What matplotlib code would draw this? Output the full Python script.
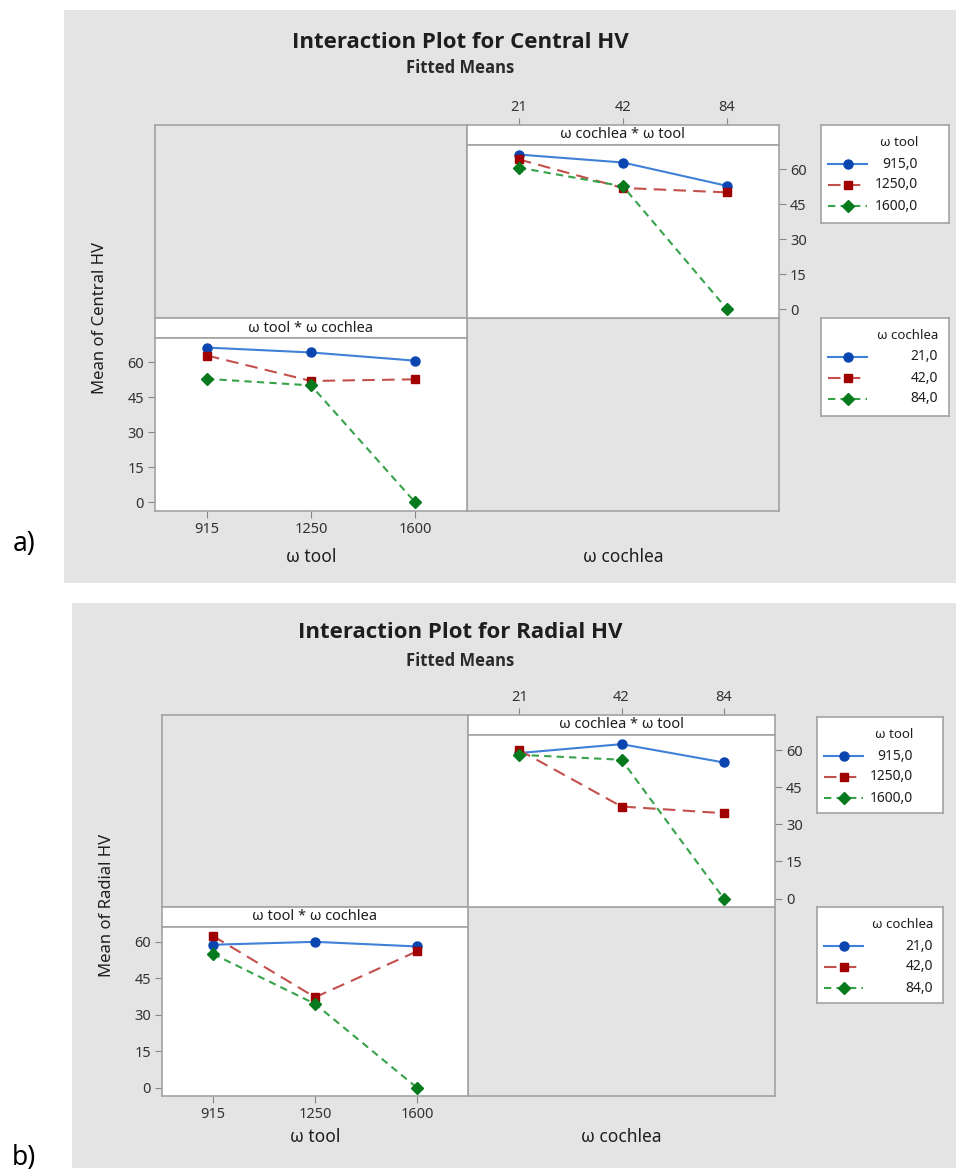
import numpy as np
import matplotlib
matplotlib.use("Agg")
import matplotlib.pyplot as plt
from matplotlib.patches import Rectangle

plt.rcParams['font.family'] = ['Noto Sans', 'DejaVu Sans']
TITLE_FONT = ['Open Sans', 'DejaVu Sans']

W, H = 956, 1171

tool_levels = ['915', '1250', '1600']
cochlea_levels = ['21', '42', '84']
tool_legend = ['915,0', '1250,0', '1600,0']
cochlea_legend = ['21,0', '42,0', '84,0']
y_ticks = [0, 15, 30, 45, 60]

# fitted means, rows = ω tool level, columns = ω cochlea level
central_hv = [[66.2, 62.8, 52.8],
              [64.1, 51.9, 50.0],
              [60.6, 52.6, 0.0]]
radial_hv = [[58.8, 62.4, 55.0],
             [60.0, 37.2, 34.5],
             [58.1, 56.1, 0.0]]

BG = '#e4e4e4'
FRAME = '#a3a3a3'
TXT = '#1e1e1e'
TICK_TXT = '#333333'

styles = [
    dict(color='#3f80d8', ls='-', lw=1.5, marker='o', mfc='#0b46b0', mec='#0b46b0', ms=6.5),
    dict(color='#c4504c', ls=(0, (6, 3.5)), lw=1.5, marker='s', mfc='#a00000', mec='#a00000', ms=5.5),
    dict(color='#36a34a', ls=(0, (3.5, 2.5)), lw=1.5, marker='D', mfc='#087a1e', mec='#087a1e', ms=6),
]

fig = plt.figure(figsize=(W / 100, H / 100), dpi=100)
fig.patch.set_facecolor('white')


def px_axes(x0, y0, x1, y1, **kw):
    return fig.add_axes([x0 / W, 1 - y1 / H, (x1 - x0) / W, (y1 - y0) / H], **kw)


def px_text(x, y, s, **kw):
    return fig.text(x / W, 1 - y / H, s, **kw)


def frame(ax, face):
    ax.set_facecolor(face)
    for sp in ax.spines.values():
        sp.set_color(FRAME)
        sp.set_linewidth(1.2)


def draw_legend(box, title, labels, right):
    x0, y0, x1, y1 = box
    ax = px_axes(x0, y0, x1, y1)
    frame(ax, 'white')
    ax.set_xticks([])
    ax.set_yticks([])
    w, h = x1 - x0, y1 - y0
    ax.set_xlim(0, w)
    ax.set_ylim(h, 0)
    ax.text(right - x0, 18, title, ha='right', va='center', fontsize=9.5, color=TXT)
    for k, lab in enumerate(labels):
        yy = 39 + 21 * k
        ax.plot([7, 27, 46], [yy] * 3, markevery=[1], **styles[k])
        ax.text(right - x0, yy, lab, ha='right', va='center', fontsize=10, color=TXT)


def draw_panel(g, title, ylabel, data, ylim, letter):
    data = np.array(data)
    bx0, by0, bx1, by1 = g['bg']
    fig.patches.append(Rectangle((bx0 / W, 1 - by1 / H), (bx1 - bx0) / W, (by1 - by0) / H,
                                 transform=fig.transFigure, facecolor=BG, edgecolor='none',
                                 zorder=-10))
    px_text(460, g['title_y'], title, ha='center', va='center', fontsize=16,
            fontweight='bold', family=TITLE_FONT, color=TXT)
    px_text(460, g['sub_y'], 'Fitted Means', ha='center', va='center', fontsize=12,
            fontweight='bold', family=TITLE_FONT, color='#2a2a2a')

    gx0, gxm, gx1 = g['gx']
    gy0, gym, gy1 = g['gy']
    s = g['strip']
    xpos = np.arange(3)

    # empty cells of the 2x2 matrix
    for cell in [(gx0, gy0, gxm, gym), (gxm, gym, gx1, gy1)]:
        ax = px_axes(*cell)
        frame(ax, BG)
        ax.set_xticks([])
        ax.set_yticks([])

    # upper right: ω cochlea on x, one line per ω tool level
    strip = px_axes(gxm, gy0, gx1, gy0 + s)
    frame(strip, 'white')
    strip.set_xlim(-0.5, 2.5)
    strip.set_ylim(0, 1)
    strip.set_yticks([])
    strip.set_xticks(xpos)
    strip.set_xticklabels(cochlea_levels)
    strip.xaxis.tick_top()
    strip.tick_params(axis='x', length=5, color='#888888', labelsize=10.5,
                      labelcolor=TICK_TXT, pad=2)
    strip.text(1, 0.5, 'ω cochlea * ω tool', ha='center', va='center', fontsize=10.5,
               color=TXT)

    ax = px_axes(gxm, gy0 + s, gx1, gym)
    frame(ax, 'white')
    for i in range(3):
        ax.plot(xpos, data[i], **styles[i])
    ax.set_xlim(-0.5, 2.5)
    ax.set_ylim(*ylim)
    ax.set_xticks([])
    ax.set_yticks(y_ticks)
    ax.yaxis.tick_right()
    ax.tick_params(axis='y', length=5, color='#888888', labelsize=10.5,
                   labelcolor=TICK_TXT, pad=3)

    # lower left: ω tool on x, one line per ω cochlea level
    strip = px_axes(gx0, gym, gxm, gym + s)
    frame(strip, 'white')
    strip.set_xticks([])
    strip.set_yticks([])
    strip.text(0.5, 0.5, 'ω tool * ω cochlea', ha='center', va='center', fontsize=10.5,
               color=TXT, transform=strip.transAxes)

    ax = px_axes(gx0, gym + s, gxm, gy1)
    frame(ax, 'white')
    for j in range(3):
        ax.plot(xpos, data[:, j], **styles[j])
    ax.set_xlim(-0.5, 2.5)
    ax.set_ylim(*ylim)
    ax.set_xticks(xpos)
    ax.set_xticklabels(tool_levels)
    ax.set_yticks(y_ticks)
    ax.tick_params(length=5, color='#888888', labelsize=10.5, labelcolor=TICK_TXT, pad=3)

    px_text((gx0 + gxm) / 2, g['xlabel_y'], 'ω tool', ha='center', va='center',
            fontsize=12.5, color=TXT)
    px_text((gxm + gx1) / 2, g['xlabel_y'], 'ω cochlea', ha='center', va='center',
            fontsize=12.5, color=TXT)
    px_text(g['ylabel_x'], (gy0 + gy1) / 2, ylabel, ha='center', va='center',
            rotation=90, fontsize=12, color=TXT)

    draw_legend(g['leg1'], 'ω tool', tool_legend, g['leg1_right'])
    draw_legend(g['leg2'], 'ω cochlea', cochlea_legend, g['leg2_right'])

    px_text(24, g['letter_y'], letter, ha='center', va='center', fontsize=19, color='black')


panel_a = dict(bg=(64, 10, 956, 583), title_y=42, sub_y=68,
               gx=(155, 467, 779), gy=(125, 318, 511), strip=20,
               xlabel_y=557, ylabel_x=100,
               leg1=(821, 125, 949, 223), leg1_right=918,
               leg2=(821, 318, 949, 416), leg2_right=938,
               letter_y=544)
panel_b = dict(bg=(72, 603, 956, 1168), title_y=633, sub_y=661,
               gx=(162, 468, 775), gy=(715, 907, 1096), strip=20,
               xlabel_y=1137, ylabel_x=107,
               leg1=(817, 717, 943, 813), leg1_right=913,
               leg2=(817, 907, 943, 1003), leg2_right=933,
               letter_y=1158)

draw_panel(panel_a, 'Interaction Plot for Central HV', 'Mean of Central HV',
           central_hv, (-3.8, 70.3), 'a)')
draw_panel(panel_b, 'Interaction Plot for Radial HV', 'Mean of Radial HV',
           radial_hv, (-3.4, 66.1), 'b)')

fig.savefig('out.png', dpi=100, facecolor='white')
